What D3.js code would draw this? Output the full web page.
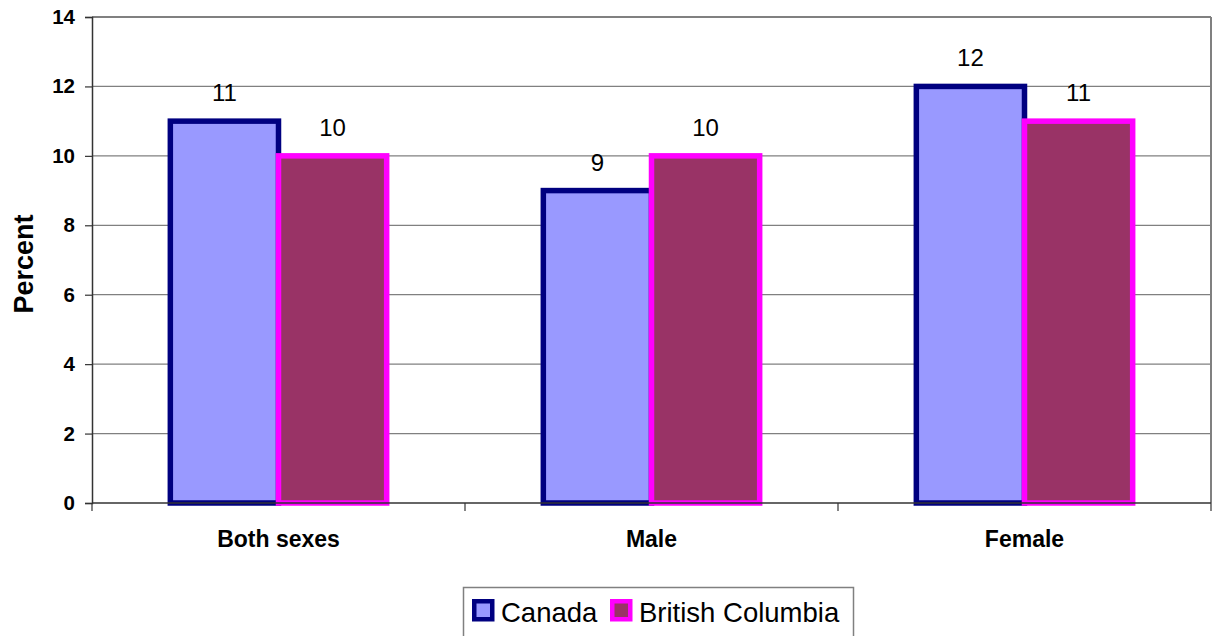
<!DOCTYPE html>
<html>
<head>
<meta charset="utf-8">
<script src="https://cdn.jsdelivr.net/npm/d3@7"></script>
<style>
  html, body { margin: 0; padding: 0; background: #fff; }
  svg { display: block; font-family: Arial, "Liberation Sans", sans-serif; }
</style>
</head>
<body>
<svg id="chart" width="1217" height="636"></svg>
<script>
// Percentage by sex, Canada vs British Columbia
const categories = ["Both sexes", "Male", "Female"];
const seriesNames = ["Canada", "British Columbia"];
const canadaValues = [11, 9, 12];
const bcValues = [10, 10, 11];
const yTicks = [0, 2, 4, 6, 8, 10, 12, 14];

const seriesValues = [canadaValues, bcValues];
const fills = ["#9999FF", "#993366"];
const strokes = ["#000080", "#FF00FF"];

const svg = d3.select("#chart");
const margin = { left: 92, right: 6, top: 17, bottom: 133 };
const W = 1217, H = 636;
const plotW = W - margin.left - margin.right;
const plotH = H - margin.top - margin.bottom;

const g = svg.append("g").attr("transform", `translate(${margin.left},${margin.top})`);

const x = d3.scaleBand().domain(categories).range([0, plotW]).paddingInner(0).paddingOuter(0);
const groupW = x.bandwidth() * 0.58;
const xs = d3.scaleBand().domain(seriesNames).range([(x.bandwidth() - groupW) / 2, (x.bandwidth() + groupW) / 2]);
const y = d3.scaleLinear().domain([0, 14]).range([plotH, 0]);

// horizontal gridlines
g.append("g").selectAll("line").data(yTicks.filter(t => t > 0)).join("line")
  .attr("x1", 0).attr("x2", plotW)
  .attr("y1", d => y(d)).attr("y2", d => y(d))
  .attr("stroke", "#808080").attr("stroke-width", d => d === 14 ? 2 : 1.2);

// plot area right border
g.append("line").attr("x1", plotW).attr("x2", plotW).attr("y1", 0).attr("y2", plotH)
  .attr("stroke", "#808080").attr("stroke-width", 2);

// y axis
const yAxis = d3.axisLeft(y).tickValues(yTicks).tickSize(7).tickPadding(10).tickFormat(d3.format("d"));
const ya = g.append("g").call(yAxis);
ya.select(".domain").attr("stroke", "#333").attr("stroke-width", 1.5);
ya.selectAll(".tick line").attr("stroke", "#333").attr("stroke-width", 1.2);
ya.selectAll(".tick text").attr("font-size", 20.5).attr("font-weight", "bold").attr("fill", "#000")
  .attr("font-family", "Arial, 'Liberation Sans', sans-serif");

// bars
categories.forEach((cat, ci) => {
  seriesNames.forEach((s, si) => {
    const v = seriesValues[si][ci];
    const bx = x(cat) + xs(s);
    g.append("rect")
      .attr("x", bx).attr("y", y(v))
      .attr("width", xs.bandwidth()).attr("height", y(0) - y(v))
      .attr("fill", fills[si]).attr("stroke", strokes[si]).attr("stroke-width", 5.5);
    g.append("text")
      .attr("x", bx + xs.bandwidth() / 2).attr("y", y(v) - 20)
      .attr("text-anchor", "middle").attr("font-size", 24).attr("fill", "#000")
      .text(v);
  });
});

// x axis (category boundaries)
g.append("line").attr("x1", 0).attr("x2", plotW).attr("y1", plotH).attr("y2", plotH)
  .attr("stroke", "#333").attr("stroke-width", 1.5);
const bounds = categories.map(c => x(c)).concat([plotW]);
g.append("g").selectAll("line").data(bounds).join("line")
  .attr("x1", d => d).attr("x2", d => d).attr("y1", plotH).attr("y2", plotH + 8)
  .attr("stroke", "#333").attr("stroke-width", 1.2);
g.append("g").selectAll("text").data(categories).join("text")
  .attr("x", d => x(d) + x.bandwidth() / 2).attr("y", plotH + 44)
  .attr("text-anchor", "middle").attr("font-size", 23).attr("font-weight", "bold")
  .text(d => d);

// y axis title
svg.append("text")
  .attr("transform", `translate(33,${margin.top + plotH / 2 + 4}) rotate(-90)`)
  .attr("text-anchor", "middle").attr("font-size", 27).attr("font-weight", "bold")
  .text("Percent");

// legend
const lg = svg.append("g");
lg.append("rect").attr("x", 463.5).attr("y", 587.5).attr("width", 390).attr("height", 60)
  .attr("fill", "#fff").attr("stroke", "#808080").attr("stroke-width", 1.5);
const legendPos = [{ sx: 472, tx: 501 }, { sx: 610, tx: 639 }];
seriesNames.forEach((s, i) => {
  lg.append("rect").attr("x", legendPos[i].sx + 2.25).attr("y", 599 + 2.25)
    .attr("width", 18).attr("height", 18)
    .attr("fill", fills[i]).attr("stroke", strokes[i]).attr("stroke-width", 4.5);
  lg.append("text").attr("x", legendPos[i].tx).attr("y", 622)
    .attr("font-size", 27.5).attr("fill", "#000").text(s);
});
</script>
</body>
</html>
